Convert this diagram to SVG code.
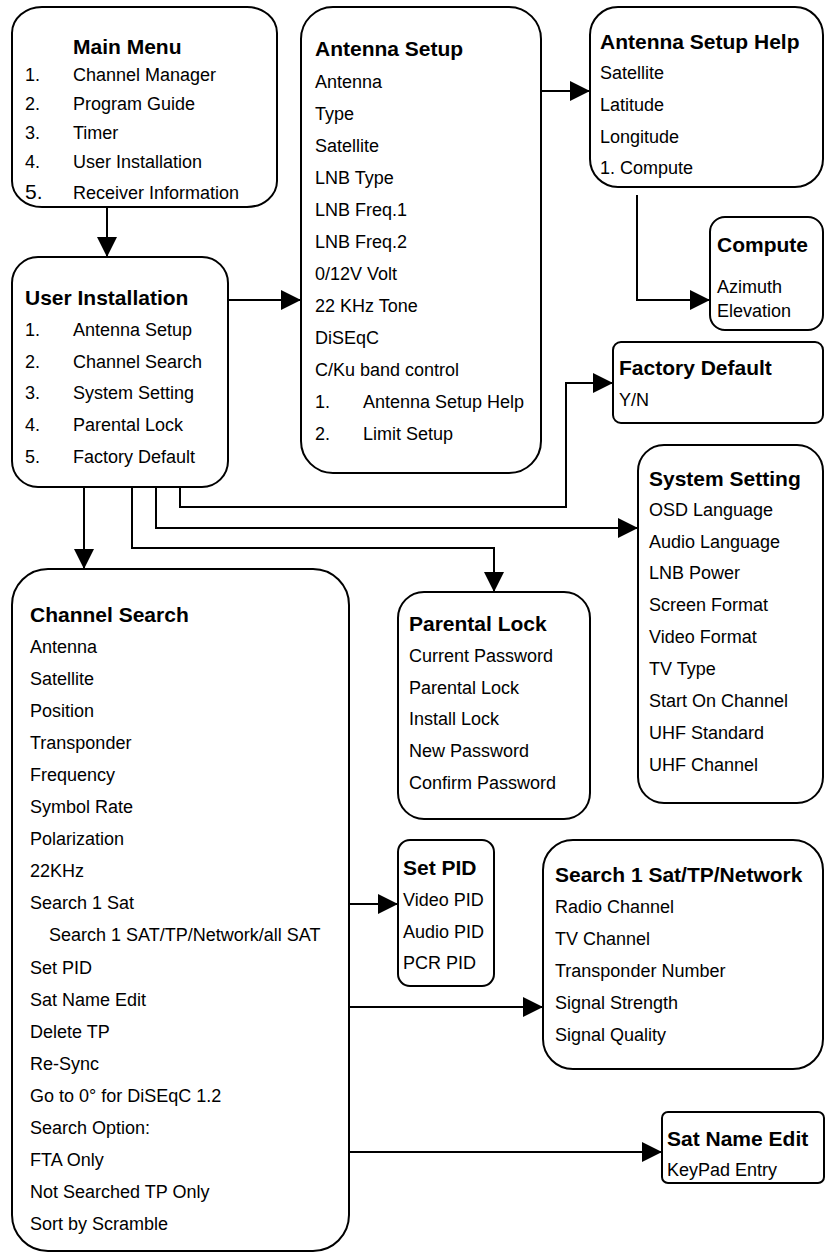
<svg xmlns="http://www.w3.org/2000/svg" width="825" height="1254" viewBox="0 0 825 1254">
<style>
.box{fill:#fff;stroke:#000;stroke-width:2}
.c{fill:none;stroke:#000;stroke-width:2}
text{font-family:"Liberation Sans",Arial,sans-serif;font-size:18px;fill:#000}
.h{font-weight:bold;font-size:21px}
</style>
<defs>
<marker id="ah" markerUnits="userSpaceOnUse" markerWidth="20" markerHeight="20" refX="20" refY="10" orient="auto">
<path d="M0,0 L20,10 L0,20 z" fill="#000"/>
</marker>
</defs>
<rect width="825" height="1254" fill="#fff"/>
<g id="connectors">
<path class="c" d="M107,207 V257" marker-end="url(#ah)"/>
<path class="c" d="M228,300 H301" marker-end="url(#ah)"/>
<path class="c" d="M541,91 H590" marker-end="url(#ah)"/>
<path class="c" d="M637,195 V300 H710" marker-end="url(#ah)"/>
<path class="c" d="M180,487 V507 H566 V383 H613" marker-end="url(#ah)"/>
<path class="c" d="M156,487 V528 H638" marker-end="url(#ah)"/>
<path class="c" d="M132,487 V548 H494 V592" marker-end="url(#ah)"/>
<path class="c" d="M84,487 V569" marker-end="url(#ah)"/>
<path class="c" d="M349,904 H398" marker-end="url(#ah)"/>
<path class="c" d="M349,1007 H543" marker-end="url(#ah)"/>
<path class="c" d="M349,1152 H662" marker-end="url(#ah)"/>
</g>
<g id="main-menu">
<rect class="box" x="12" y="7" width="265" height="200" rx="30" ry="26"/>
<text class="h" x="73" y="54">Main Menu</text>
<text x="25" y="81">1.</text><text x="73" y="81">Channel Manager</text>
<text x="25" y="110">2.</text><text x="73" y="110">Program Guide</text>
<text x="25" y="139">3.</text><text x="73" y="139">Timer</text>
<text x="25" y="168">4.</text><text x="73" y="168">User Installation</text>
<text x="25" y="199" style="font-size:21px">5.</text><text x="73" y="199">Receiver Information</text>
</g>
<g id="user-installation">
<rect class="box" x="12" y="257" width="216" height="230" rx="26" ry="26"/>
<text class="h" x="25" y="305">User Installation</text>
<text x="25" y="336">1.</text><text x="73" y="336">Antenna Setup</text>
<text x="25" y="368">2.</text><text x="73" y="368">Channel Search</text>
<text x="25" y="399">3.</text><text x="73" y="399">System Setting</text>
<text x="25" y="431">4.</text><text x="73" y="431">Parental Lock</text>
<text x="25" y="463">5.</text><text x="73" y="463">Factory Default</text>
</g>
<g id="antenna-setup">
<rect class="box" x="301" y="7" width="240" height="466" rx="32" ry="32"/>
<text class="h" x="315" y="56">Antenna Setup</text>
<text x="315" y="88">Antenna</text>
<text x="315" y="120">Type</text>
<text x="315" y="152">Satellite</text>
<text x="315" y="184">LNB Type</text>
<text x="315" y="216">LNB Freq.1</text>
<text x="315" y="248">LNB Freq.2</text>
<text x="315" y="280">0/12V Volt</text>
<text x="315" y="312">22 KHz Tone</text>
<text x="315" y="344">DiSEqC</text>
<text x="315" y="376">C/Ku band control</text>
<text x="315" y="408">1.</text><text x="363" y="408">Antenna Setup Help</text>
<text x="315" y="440">2.</text><text x="363" y="440">Limit Setup</text>
</g>
<g id="antenna-setup-help">
<rect class="box" x="590" y="7" width="233" height="180" rx="28" ry="28"/>
<text class="h" x="600" y="49">Antenna Setup Help</text>
<text x="600" y="79">Satellite</text>
<text x="600" y="111">Latitude</text>
<text x="600" y="143">Longitude</text>
<text x="600" y="174">1. Compute</text>
</g>
<g id="compute">
<rect class="box" x="710" y="217" width="113" height="113" rx="15" ry="15"/>
<text class="h" x="717" y="252">Compute</text>
<text x="717" y="293">Azimuth</text>
<text x="717" y="317">Elevation</text>
</g>
<g id="factory-default">
<rect class="box" x="613" y="342" width="210" height="81" rx="8" ry="8"/>
<text class="h" x="619" y="375">Factory Default</text>
<text x="619" y="406">Y/N</text>
</g>
<g id="system-setting">
<rect class="box" x="638" y="445" width="185" height="358" rx="26" ry="26"/>
<text class="h" x="649" y="486">System Setting</text>
<text x="649" y="516">OSD Language</text>
<text x="649" y="548">Audio Language</text>
<text x="649" y="579">LNB Power</text>
<text x="649" y="611">Screen Format</text>
<text x="649" y="643">Video Format</text>
<text x="649" y="675">TV Type</text>
<text x="649" y="707">Start On Channel</text>
<text x="649" y="739">UHF Standard</text>
<text x="649" y="771">UHF Channel</text>
</g>
<g id="parental-lock">
<rect class="box" x="398" y="592" width="192" height="227" rx="26" ry="26"/>
<text class="h" x="409" y="631">Parental Lock</text>
<text x="409" y="662">Current Password</text>
<text x="409" y="694">Parental Lock</text>
<text x="409" y="725">Install Lock</text>
<text x="409" y="757">New Password</text>
<text x="409" y="789">Confirm Password</text>
</g>
<g id="set-pid">
<rect class="box" x="398" y="840" width="96" height="146" rx="12" ry="12"/>
<text class="h" x="403" y="875">Set PID</text>
<text x="403" y="906">Video PID</text>
<text x="403" y="938">Audio PID</text>
<text x="403" y="969">PCR PID</text>
</g>
<g id="search-1-sat">
<rect class="box" x="543" y="840" width="280" height="229" rx="30" ry="30"/>
<text class="h" x="555" y="882">Search 1 Sat/TP/Network</text>
<text x="555" y="913">Radio Channel</text>
<text x="555" y="945">TV Channel</text>
<text x="555" y="977">Transponder Number</text>
<text x="555" y="1009">Signal Strength</text>
<text x="555" y="1041">Signal Quality</text>
</g>
<g id="sat-name-edit">
<rect class="box" x="662" y="1112" width="162" height="71" rx="6" ry="6"/>
<text class="h" x="667" y="1146">Sat Name Edit</text>
<text x="667" y="1176">KeyPad Entry</text>
</g>
<g id="channel-search">
<rect class="box" x="12" y="569" width="337" height="682" rx="36" ry="36"/>
<text class="h" x="30" y="622">Channel Search</text>
<text x="30" y="653">Antenna</text>
<text x="30" y="685">Satellite</text>
<text x="30" y="717">Position</text>
<text x="30" y="749">Transponder</text>
<text x="30" y="781">Frequency</text>
<text x="30" y="813">Symbol Rate</text>
<text x="30" y="845">Polarization</text>
<text x="30" y="877">22KHz</text>
<text x="30" y="909">Search 1 Sat</text>
<text x="49" y="941">Search 1 SAT/TP/Network/all SAT</text>
<text x="30" y="974">Set PID</text>
<text x="30" y="1006">Sat Name Edit</text>
<text x="30" y="1038">Delete TP</text>
<text x="30" y="1070">Re-Sync</text>
<text x="30" y="1102">Go to 0° for DiSEqC 1.2</text>
<text x="30" y="1134">Search Option:</text>
<text x="30" y="1166">FTA Only</text>
<text x="30" y="1198">Not Searched TP Only</text>
<text x="30" y="1230">Sort by Scramble</text>
</g>
</svg>
